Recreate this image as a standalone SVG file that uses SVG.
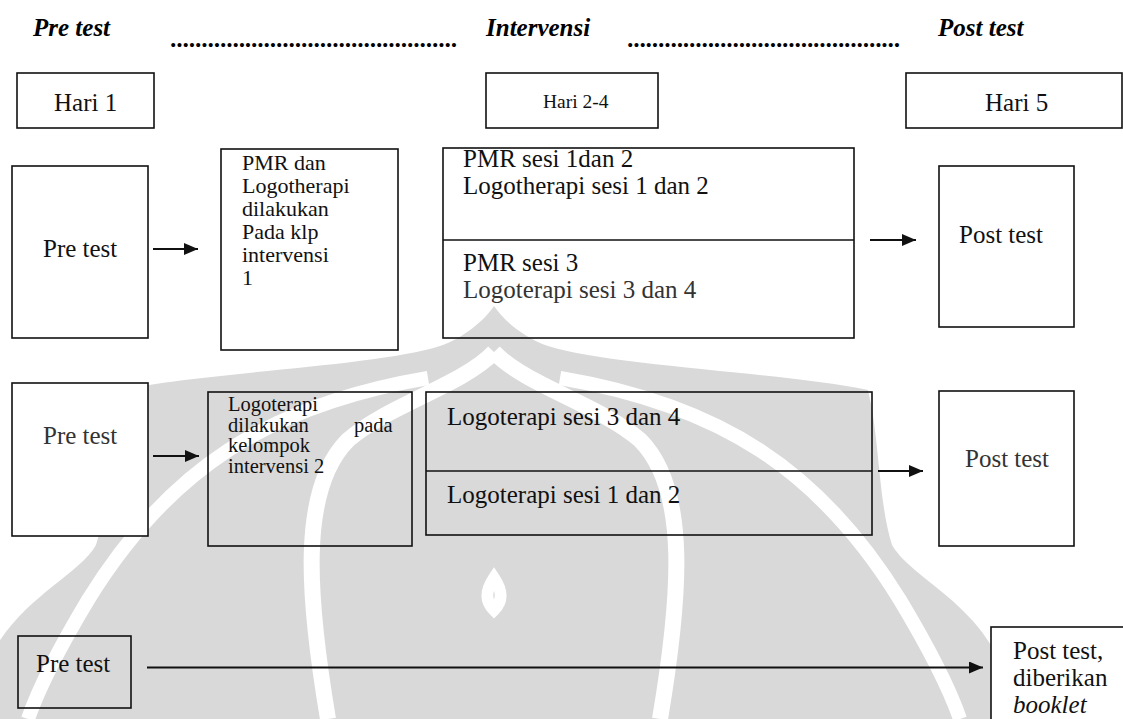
<svg xmlns="http://www.w3.org/2000/svg" width="1123" height="719" viewBox="0 0 1123 719">
<defs>
<style>
.t{font-family:"Liberation Serif","Times New Roman",serif;font-size:25px;fill:#111}
.h{font-family:"Liberation Serif","Times New Roman",serif;font-size:25px;font-weight:bold;font-style:italic;fill:#000}
.s{font-family:"Liberation Serif","Times New Roman",serif;font-size:22px;fill:#111}
.s2{font-family:"Liberation Serif","Times New Roman",serif;font-size:20.5px;fill:#111}
.g{fill:#333}
.box{fill:none;stroke:#111;stroke-width:1.6}
.wbox{fill:#fff;stroke:#111;stroke-width:1.6}
.div{stroke:#111;stroke-width:1.6}
.con{stroke:#111;stroke-width:1.8;fill:none;marker-end:url(#ah)}
.wm{fill:#d9d9d9}
.wl{fill:none;stroke:#fff}
</style>
<marker id="ah" viewBox="0 0 14 12" refX="14" refY="6" markerWidth="14" markerHeight="12" markerUnits="userSpaceOnUse" orient="auto">
<path d="M0,0 L14,6 L0,12 Z" fill="#111"/>
</marker>
</defs>
<rect width="1123" height="719" fill="#fff"/>
<g id="watermark">
<path class="wm" d="M494,306 C505,322 525,338 548,346 C610,366 780,372 868,390 C880,440 878,500 892,545 C915,585 1005,610 1015,719 L-27,719 C-17,610 73,585 96,545 C110,500 108,440 120,390 C208,372 378,366 440,346 C463,338 483,322 494,306 Z"/>
<path class="wl" stroke-width="16" d="M494,352 C525,385 600,405 640,440 C690,490 680,600 660,719"/>
<path class="wl" stroke-width="16" d="M494,352 C463,385 388,405 348,440 C298,490 308,600 328,719"/>
<path class="wl" stroke-width="14" d="M560,378 C720,405 820,470 900,600 C930,650 950,690 960,719"/>
<path class="wl" stroke-width="14" d="M428,378 C268,405 168,470 88,600 C58,650 38,690 28,719"/>
<path class="wl" stroke-width="12" d="M494,578 C502,590 504,600 494,610 C484,600 486,590 494,578 Z"/>
</g>
<g id="header">
<text class="h" x="33" y="36">Pre test</text>
<text class="h" x="171" y="47" textLength="287" lengthAdjust="spacing">..............................................</text>
<text class="h" x="486" y="36">Intervensi</text>
<text class="h" x="628" y="47" textLength="273" lengthAdjust="spacing">............................................</text>
<text class="h" x="938" y="36">Post test</text>
</g>
<g id="hari1"><rect class="wbox" x="17" y="73" width="137" height="55"/><text class="t" x="54" y="111">Hari 1</text></g>
<g id="hari24"><rect class="wbox" x="486" y="73" width="172" height="55"/><text class="t" x="543" y="108" style="font-size:19.5px">Hari 2-4</text></g>
<g id="hari5"><rect class="wbox" x="906" y="73" width="216" height="55"/><text class="t" x="985" y="111">Hari 5</text></g>

<g id="pretest1"><rect class="wbox" x="12" y="166" width="136" height="172"/><text class="t" x="43" y="257">Pre test</text></g>
<g id="pmr1"><rect class="box" x="221" y="149" width="177" height="201"/>
<text class="s" x="242" y="170">PMR dan</text>
<text class="s" x="242" y="193">Logotherapi</text>
<text class="s" x="242" y="216">dilakukan</text>
<text class="s" x="242" y="239">Pada klp</text>
<text class="s" x="242" y="262">intervensi</text>
<text class="s" x="242" y="285">1</text>
</g>
<g id="sesi1"><rect class="box" x="443" y="148" width="411" height="190"/>
<line class="div" x1="443" y1="240" x2="854" y2="240"/>
<text class="t" x="463" y="167">PMR sesi 1dan 2</text>
<text class="t" x="463" y="194">Logotherapi sesi 1 dan 2</text>
<text class="t" x="463" y="271">PMR sesi 3</text>
<text class="t g" x="463" y="298">Logoterapi sesi 3 dan 4</text>
</g>
<g id="posttest1"><rect class="wbox" x="939" y="166" width="135" height="161"/><text class="t" x="959" y="243">Post test</text></g>

<g id="pretest2"><rect class="wbox" x="12" y="383" width="136" height="153"/><text class="t g" x="43" y="444">Pre test</text></g>
<g id="logo2"><rect class="box" x="208" y="392" width="204" height="154"/>
<text class="s2" x="228" y="411">Logoterapi</text>
<text class="s2" x="228" y="432">dilakukan</text>
<text class="s2" x="354" y="432">pada</text>
<text class="s2" x="228" y="452">kelompok</text>
<text class="s2" x="228" y="473">intervensi 2</text>
</g>
<g id="sesi2"><rect class="box" x="426" y="392" width="446" height="143"/>
<line class="div" x1="426" y1="471" x2="872" y2="471"/>
<text class="t" x="447" y="425">Logoterapi sesi 3 dan 4</text>
<text class="t" x="447" y="503">Logoterapi sesi 1 dan 2</text>
</g>
<g id="posttest2"><rect class="wbox" x="939" y="391" width="135" height="155"/><text class="t g" x="965" y="467">Post test</text></g>

<g id="pretest3"><rect class="box" x="18" y="636" width="113" height="72"/><text class="t" x="36" y="672">Pre test</text></g>
<g id="posttest3"><rect class="wbox" x="991" y="627" width="140" height="100"/>
<text class="t" x="1013" y="659">Post test,</text>
<text class="t" x="1013" y="686">diberikan</text>
<text class="t" x="1013" y="713" style="font-style:italic">booklet</text>
</g>

<g id="connectors">
<line class="con" x1="153" y1="249" x2="198" y2="249"/>
<line class="con" x1="870" y1="240" x2="916" y2="240"/>
<line class="con" x1="153" y1="456" x2="199" y2="456"/>
<line class="con" x1="878" y1="471" x2="923" y2="471"/>
<line class="con" x1="147" y1="667.5" x2="983" y2="667.5"/>
</g>
</svg>
